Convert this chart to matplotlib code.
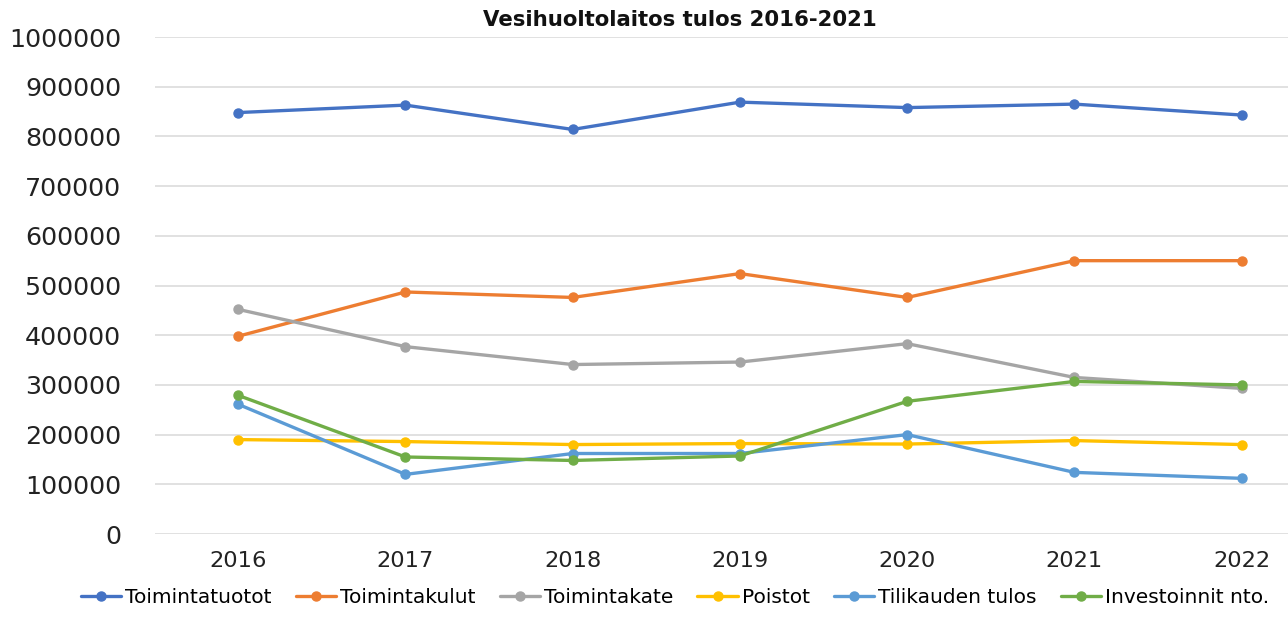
import matplotlib.pyplot as plt
import numpy as np

years = ["2016", "2017", "2018", "2019", "2020", "2021", "2022"]

toimintatuotot = [848000, 863000, 814000, 869000, 858000, 865000, 843000]
toimintakulut = [398000, 487000, 476000, 524000, 476000, 550000, 550000]
toimintakate = [452000, 377000, 341000, 346000, 383000, 315000, 293000]
poistot = [190000, 186000, 180000, 182000, 181000, 188000, 180000]
tilikauden_tulos = [261000, 120000, 162000, 162000, 200000, 124000, 112000]
investoinnit = [279000, 155000, 148000, 157000, 267000, 307000, 300000]

series = [
    ("Toimintatuotot", toimintatuotot, "#4472C4"),
    ("Toimintakulut", toimintakulut, "#ED7D31"),
    ("Toimintakate", toimintakate, "#A5A5A5"),
    ("Poistot", poistot, "#FFC000"),
    ("Tilikauden tulos", tilikauden_tulos, "#5B9BD5"),
    ("Investoinnit nto.", investoinnit, "#70AD47"),
]

plt.rcParams["font.family"] = ["DejaVu Sans"]

fig = plt.figure(figsize=(12.88, 6.17), dpi=100)
ax = fig.add_axes([0.120, 0.1345, 0.909, 0.8055])

x = np.arange(len(years))
for name, vals, color in series:
    ax.plot(x, vals, color=color, lw=2.4, marker="o", markersize=6.5,
            label=name, solid_capstyle="round")

ax.set_xlim(-0.5, len(years) - 0.5)
ax.set_ylim(0, 1000000)
ax.set_yticks(np.arange(0, 1000001, 100000))
ax.set_yticklabels([str(v) for v in range(0, 1000001, 100000)], fontsize=18.3, color="#222222")
ax.set_xticks(x)
ax.set_xticklabels(years, fontsize=16.2, color="#222222")
ax.tick_params(axis="both", length=0)
ax.tick_params(axis="y", pad=24)
ax.tick_params(axis="x", pad=12)
ax.grid(axis="y", color="#DCDCDC", lw=1.2)
ax.set_axisbelow(True)
for s in ax.spines.values():
    s.set_visible(False)

fig.text(0.528, 0.967, "Vesihuoltolaitos tulos 2016-2021", ha="center", va="center",
         fontsize=15.3, fontweight="bold", color="#111111")

fig.legend(loc="center", bbox_to_anchor=(0.524, 0.032), ncol=6, frameon=False,
           fontsize=14.5, handlelength=2.0, handletextpad=0.2, columnspacing=1.2)

fig.savefig("out.png", dpi=100)
